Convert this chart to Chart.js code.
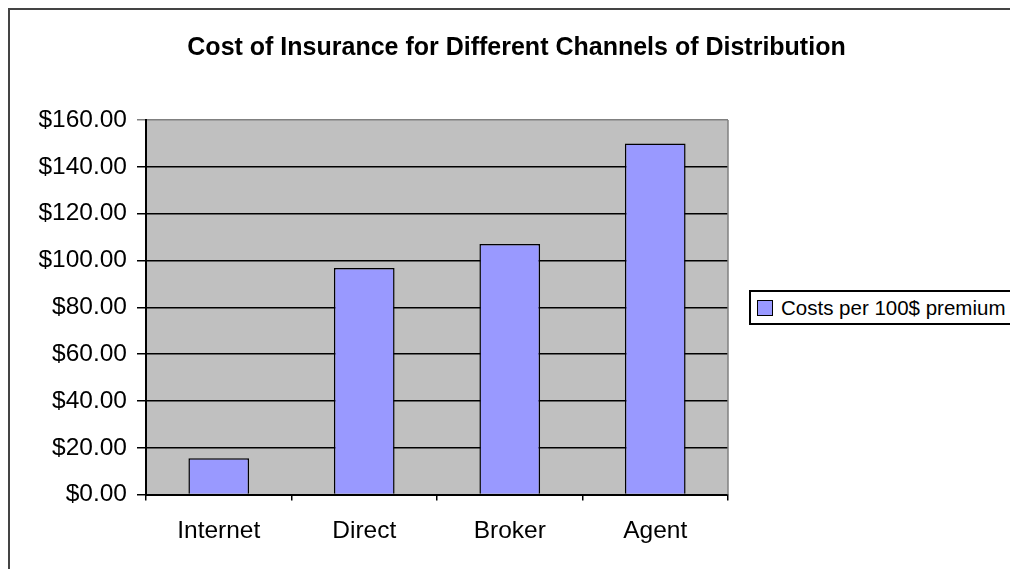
<!DOCTYPE html>
<html>
<head>
<meta charset="utf-8">
<script src="https://cdn.jsdelivr.net/npm/chart.js@4/dist/chart.umd.min.js"></script>
<style>
  html, body { margin: 0; padding: 0; background: #fff; }
  #wrap { position: relative; width: 1010px; height: 569px; overflow: hidden; }
  #c { position: absolute; left: 0; top: 0; }
  #frame { position: absolute; left: 8px; top: 8px; width: 1100px; height: 700px;
           border-left: 2px solid #444; border-top: 2px solid #444; pointer-events: none; }
  #legend { position: absolute; left: 749px; top: 290px; height: 35px; width: 300px;
            border: 2px solid #000; background: #fff; box-sizing: border-box;
            font-family: "Liberation Sans", Arial, sans-serif; font-size: 20.5px; color: #000;
            white-space: nowrap; }
  #legend .sw { position: absolute; left: 6px; top: 8px; width: 14px; height: 14px;
                border: 1.5px solid #000; }
  #legend .tx { position: absolute; left: 30px; top: 5px; line-height: 22px; }
</style>
</head>
<body>
<div id="wrap">
  <canvas id="c" width="1010" height="569"></canvas>
  <div id="frame"></div>
  <div id="legend"><div class="sw" id="sw"></div><div class="tx" id="lt"></div></div>
</div>
<script>
const categories = ["Internet", "Direct", "Broker", "Agent"];
const seriesLabel = "Costs per 100$ premium";
const costs = [15.5, 96.8, 107, 150];
const yTicks = [0, 20, 40, 60, 80, 100, 120, 140, 160];
const title = "Cost of Insurance for Different Channels of Distribution";

const barColor = "#9999ff";
document.getElementById("sw").style.background = barColor;
document.getElementById("lt").textContent = seriesLabel;

const plotBg = {
  id: "plotBg",
  beforeDraw(chart) {
    const a = chart.chartArea, ctx = chart.ctx;
    ctx.save();
    ctx.fillStyle = "#c0c0c0";
    ctx.fillRect(a.left, a.top, a.right - a.left, a.bottom - a.top);
    ctx.restore();
  },
  beforeDatasetsDraw(chart) {
    const a = chart.chartArea, ctx = chart.ctx;
    ctx.save();
    ctx.strokeStyle = "#808080";
    ctx.lineWidth = 1.5;
    ctx.beginPath();
    ctx.moveTo(a.right, a.top);
    ctx.lineTo(a.right, a.bottom);
    ctx.stroke();
    ctx.restore();
  },
  afterDraw(chart) {
    const ctx = chart.ctx;
    ctx.save();
    ctx.fillStyle = "#000";
    ctx.font = "bold 25px 'Liberation Sans', Arial, sans-serif";
    ctx.textAlign = "center";
    ctx.textBaseline = "alphabetic";
    ctx.fillText(title, 516.5, 55);
    ctx.restore();
  }
};

new Chart(document.getElementById("c"), {
  type: "bar",
  data: {
    labels: categories,
    datasets: [{
      label: seriesLabel,
      data: costs,
      backgroundColor: barColor,
      borderColor: "#000",
      borderWidth: 1.5,
      categoryPercentage: 1,
      barPercentage: 0.417
    }]
  },
  options: {
    responsive: false,
    animation: false,
    devicePixelRatio: 1,
    layout: { padding: { left: 23, right: 282, top: 120, bottom: 7 } },
    plugins: {
      legend: { display: false },
      tooltip: { enabled: false },
      title: { display: false }
    },
    scales: {
      x: {
        grid: { display: true, drawOnChartArea: false, drawTicks: true, tickLength: 6, color: "#000", lineWidth: 1.5, offset: true },
        border: { display: true, color: "#000", width: 2 },
        ticks: { color: "#000", padding: 16, font: { family: "'Liberation Sans', Arial, sans-serif", size: 24.5 } }
      },
      y: {
        min: 0, max: 160,
        afterBuildTicks(scale) { scale.ticks = yTicks.map(v => ({ value: v })); },
        afterFit(scale) { scale.width = 123; },
        grid: {
          tickLength: 9,
          color: ctx => (ctx.tick && ctx.tick.value === 160) ? "#808080" : "#000",
          lineWidth: 1.5
        },
        border: { display: true, color: "#000", width: 2 },
        ticks: {
          color: "#000", padding: 10,
          font: { family: "'Liberation Sans', Arial, sans-serif", size: 24.5 },
          callback: v => "$" + Number(v).toFixed(2)
        }
      }
    }
  },
  plugins: [plotBg]
});
</script>
</body>
</html>
